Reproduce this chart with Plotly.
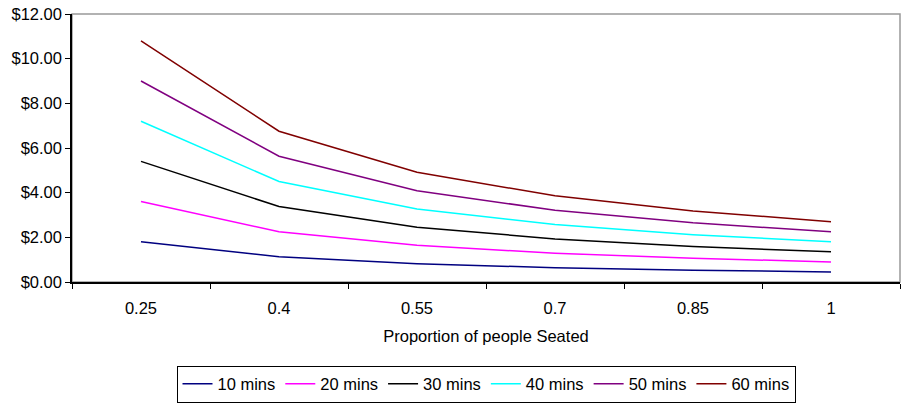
import plotly.graph_objects as go

categories = ["0.25", "0.4", "0.55", "0.7", "0.85", "1"]
series_names = ["10 mins", "20 mins", "30 mins", "40 mins", "50 mins", "60 mins"]
v10 = [1.80, 1.13, 0.82, 0.64, 0.53, 0.45]
v20 = [3.60, 2.25, 1.64, 1.29, 1.06, 0.90]
v30 = [5.40, 3.38, 2.45, 1.93, 1.59, 1.35]
v40 = [7.20, 4.50, 3.27, 2.57, 2.12, 1.80]
v50 = [9.00, 5.63, 4.09, 3.21, 2.65, 2.25]
v60 = [10.80, 6.75, 4.91, 3.86, 3.18, 2.70]
colors = ["#000080", "#FF00FF", "#000000", "#00FFFF", "#800080", "#800000"]

FONT = "Liberation Sans, Arial, sans-serif"

fig = go.Figure()
for name, vals, col in zip(series_names, [v10, v20, v30, v40, v50, v60], colors):
    fig.add_trace(go.Scatter(x=categories, y=vals, name=name, mode="lines",
                             line=dict(color=col, width=1.5)))

fig.add_shape(type="rect", xref="paper", yref="paper", x0=0, y0=0, x1=1, y1=1,
              line=dict(color="#999999", width=1.5), layer="below")

fig.update_layout(
    width=901, height=404,
    margin=dict(l=72, r=1, t=14, b=122, autoexpand=False),
    paper_bgcolor="white", plot_bgcolor="white",
    font=dict(family=FONT, size=16.5, color="#000000"),
    showlegend=True,
    legend=dict(orientation="h", x=0.5, xanchor="center", y=-0.312, yanchor="top",
                bordercolor="#000000", borderwidth=1, bgcolor="white",
                font=dict(family=FONT, size=16.5), itemwidth=30,
                traceorder="normal"),
    xaxis=dict(type="category", range=[-0.5, 5.5], showgrid=False, automargin=False,
               showline=True, linecolor="#000000", linewidth=1.5,
               ticks="outside", tickson="boundaries", ticklen=5, tickcolor="#000000",
               ticklabelstandoff=10,
               tickfont=dict(family=FONT, size=16.5),
               title=dict(text="Proportion of people Seated", standoff=15,
                          font=dict(family=FONT, size=16.5))),
    yaxis=dict(range=[0, 12], dtick=2, showgrid=False, zeroline=False, automargin=False,
               showline=True, linecolor="#000000", linewidth=1.5,
               ticks="outside", ticklen=5, tickcolor="#000000",
               tickprefix="$", tickformat=".2f",
               tickfont=dict(family=FONT, size=16.5)),
)

fig.write_html("out.html")
